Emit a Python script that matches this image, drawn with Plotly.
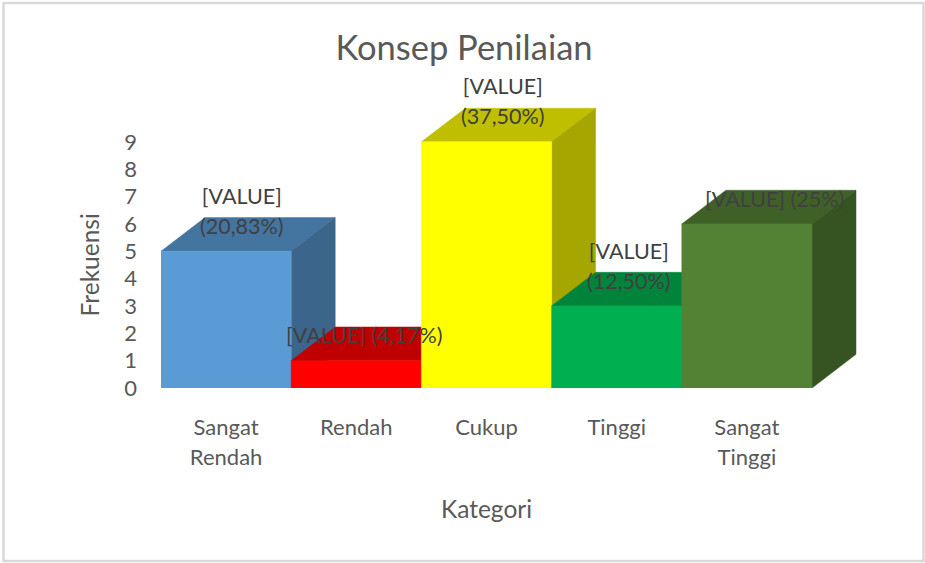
import plotly.graph_objects as go

# Data
categories = ["Sangat<br>Rendah", "Rendah", "Cukup", "Tinggi", "Sangat<br>Tinggi"]
frequencies = [5, 1, 9, 3, 6]
value_labels = ["[VALUE]<br>(20,83%)", "[VALUE] (4,17%)", "[VALUE]<br>(37,50%)", "[VALUE]<br>(12,50%)", "[VALUE] (25%)"]
y_ticks = [0, 1, 2, 3, 4, 5, 6, 7, 8, 9]

# Styles
front_colors = ["#5B9BD5", "#FF0000", "#FFFF00", "#00B050", "#548235"]
top_colors = ["#4474A0", "#BF0000", "#BFBF00", "#00843C", "#3F6128"]
side_colors = ["#3B658A", "#A60000", "#A6A600", "#007235", "#365422"]
label_shift_x = [15, 8, 16, 12, 28]
label_shift_y = [40, 26, 41, 40, 25]

W, H = 925, 563
L, R, T, B = 161, 857, 107, 388
CAT_PX = 130.2
DX, DY = 44 / CAT_PX, 33.7 / 27.4
FONT = "Lato"
BAR_HALF = 0.5

fig = go.Figure()


def poly(xs, ys, color, name):
    fig.add_trace(go.Scatter(
        x=xs + xs[:1], y=ys + ys[:1], mode="lines", fill="toself",
        fillcolor=color, line=dict(color=color, width=0.5),
        hoverinfo="skip", showlegend=False, name=name))


def sized(text, px_size):
    span = f"<span style='font-size:{px_size}px'>"
    return span + text.replace("<br>", "</span><br>" + span) + "</span>"


def px(xp):
    return (xp - L) / (R - L)


def py(yp):
    return (B - yp) / (B - T)


for i, v in enumerate(frequencies):
    a, b = i - BAR_HALF, i + BAR_HALF
    poly([a, a + DX, b + DX, b], [v, v + DY, v + DY, v], top_colors[i], "top")
    poly([b, b + DX, b + DX, b], [0, DY, v + DY, v], side_colors[i], "side")
    poly([a, b, b, a], [0, 0, v, v], front_colors[i], "front")

annotations = []
for i, v in enumerate(frequencies):
    annotations.append(dict(
        x=i, y=v, xref="x", yref="y", showarrow=False,
        xshift=label_shift_x[i], yshift=label_shift_y[i],
        text=sized(value_labels[i], 21.5),
        font=dict(family=FONT, size=23, color="#404040"), align="center",
    ))
annotations += [
    dict(x=px(88.5), y=py(265), xref="paper", yref="paper", showarrow=False, text="Frekuensi", textangle=-90,
         xanchor="center", yanchor="middle", font=dict(family=FONT, size=24.5, color="#595959")),
    dict(x=px(486.5), y=py(508), xref="paper", yref="paper", showarrow=False, text="Kategori",
         xanchor="center", yanchor="middle", font=dict(family=FONT, size=24.5, color="#595959")),
]

fig.update_layout(
    width=W, height=H,
    margin=dict(l=L, r=W - R, t=T, b=H - B, pad=0),
    paper_bgcolor="white", plot_bgcolor="rgba(0,0,0,0)",
    showlegend=False, hovermode=False,
    title=dict(text="Konsep Penilaian", x=464 / W, y=1 - 48 / H, xanchor="center", yanchor="middle",
               font=dict(family=FONT, size=34.5, color="#595959")),
    xaxis=dict(range=[-0.5, -0.5 + (R - L) / CAT_PX], tickmode="array", tickvals=list(range(5)),
               ticktext=[sized(c, 22) for c in categories],
               tickfont=dict(family=FONT, size=23, color="#595959"),
               showgrid=False, zeroline=False, showline=False, ticks="", ticklabelstandoff=23),
    yaxis=dict(range=[0, (B - T) / 27.35], tickmode="array", tickvals=y_ticks,
               tickfont=dict(family=FONT, size=22, color="#595959"),
               showgrid=False, zeroline=False, showline=False, ticks="", ticklabelstandoff=23),
    annotations=annotations,
    shapes=[dict(type="rect", xref="paper", yref="paper", x0=px(3.5), x1=px(923.5), y0=py(561), y1=py(3),
                 line=dict(color="#D9D9D9", width=2.5), fillcolor="rgba(0,0,0,0)", layer="below")],
)

fig.write_html("out.html", config={"displayModeBar": False},
               post_script="document.body.style.margin='0';document.body.style.overflow='hidden';")
